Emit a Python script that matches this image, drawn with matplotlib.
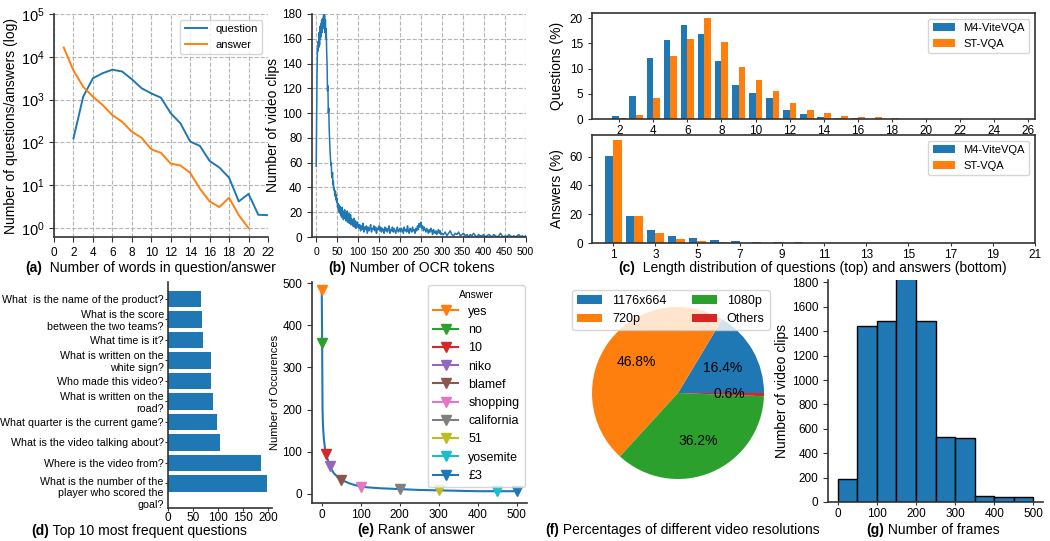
import numpy as np
import matplotlib.pyplot as plt
from matplotlib.transforms import ScaledTranslation

plt.rcParams['font.family'] = ['Liberation Sans', 'DejaVu Sans']
plt.rcParams['axes.edgecolor'] = '#333333'
plt.rcParams['axes.linewidth'] = 1.2
plt.rcParams['xtick.color'] = '#333333'
plt.rcParams['ytick.color'] = '#333333'
plt.rcParams['xtick.labelcolor'] = 'black'
plt.rcParams['ytick.labelcolor'] = 'black'
plt.rcParams['legend.fontsize'] = 9

# (a) words per question / answer
word_len = list(range(1, 23))
q_words = [None, 124, 1170, 3160, 4150, 5000, 4550, 3000, 1850, 1400, 1110,
           480, 280, 105, 83, 37, 26, 15, 4.2, 6.3, 2.05, 2.0]
a_words = [16500, 4800, 2000, 1170, 750, 435, 305, 178, 129, 69, 57,
           32, 29, 19.5, 8.3, 4.2, 3.1, 5.1, 2.0, 1.0, None, None]

# (b) OCR tokens per clip
ocr_dense = [57, 95, 130, 152, 150, 158, 153, 165, 155, 170,
             160, 172, 162, 175, 165, 176, 168, 178, 180, 170,
             179, 165, 175, 160, 168, 150, 140, 118, 122, 100,
             104, 88, 78, 70, 64, 58, 60, 50, 48, 52,
             42, 45, 38, 40, 36, 33, 37, 30, 34, 28,
             31, 24, 27, 22, 26, 20, 25, 19, 24, 17,
             22, 16, 24, 18, 21, 14, 20, 17, 22, 15,
             19, 13, 18, 16, 21, 12, 17, 14, 19, 11,
             16, 13, 18, 10, 15, 12, 14, 9, 13, 11,
             15, 8, 12, 10, 13, 7, 11, 9, 12, 8,
             10]
ocr_mid = [7, 10, 5, 9, 6, 11, 4, 8, 6, 9, 3, 8, 5, 7, 10, 4, 7, 6, 9, 5, 8, 3, 7, 6, 9,
           5, 8, 4, 7, 6, 3, 8, 5, 7, 4, 6, 9, 3, 6, 5, 8, 4, 7, 5, 3, 6, 8, 4, 5, 7,
           4, 7, 5, 3, 8, 5, 6, 4, 9, 5, 3, 7, 6, 4, 8, 5, 6, 3, 7, 5, 9, 6, 11, 8, 12,
           7, 9, 5, 8, 6, 4, 7, 5, 3, 6, 4, 7, 5, 2, 6, 4, 3, 5, 2, 4, 6, 3, 5, 2, 3]
ocr_tail = [2, 4, 1, 3, 5, 2, 1, 3, 2, 4, 1, 2, 3, 1, 2, 0, 2, 1, 3, 1, 0, 2, 1, 1, 2,
            0, 1, 2, 1, 0, 2, 1, 0, 1, 3, 1, 0, 1, 0, 2, 1, 0, 1, 0, 1, 2, 0, 1, 0, 1]

# (c) length distributions (%)
q_len = list(range(2, 27))
q_m4 = [0.5, 4.6, 12.1, 15.7, 18.7, 16.9, 11.4, 6.8, 5.2, 4.2, 1.85, 1.05, 0.46,
        0.26, 0.13, 0.08, 0.05, 0.04, 0.03, 0.03, 0.02, 0, 0, 0, 0]
q_st = [0.1, 0.7, 4.1, 12.5, 15.9, 20.1, 15.3, 10.4, 7.8, 5.6, 3.2, 1.85, 1.25,
        0.66, 0.46, 0.33, 0.12, 0.08, 0.06, 0.05, 0.04, 0.03, 0.03, 0.02, 0]
a_len = list(range(1, 21))
a_m4 = [60.7, 18.7, 8.9, 4.7, 3.3, 1.9, 1.2, 0.5, 0.4, 0.35, 0.3, 0.3, 0.25,
        0.2, 0.2, 0.2, 0.15, 0.15, 0.1, 0.1]
a_st = [71.3, 18.7, 6.8, 2.6, 1.2, 0.5, 0.3, 0.3, 0.25, 0.2, 0.2, 0.2, 0.15,
        0.15, 0.1, 0.1, 0.1, 0.05, 0.05, 0.05]

# (d) top questions (bottom to top)
questions = ["What is the number of the\nplayer who scored the\ngoal?",
             "Where is the video from?",
             "What is the video talking about?",
             "What quarter is the current game?",
             "What is written on the\nroad?",
             "Who made this video?",
             "What is written on the\nwhite sign?",
             "What time is it?",
             "What is the score\nbetween the two teams?",
             "What  is the name of the product?"]
question_counts = [197, 186, 103, 97, 89, 85, 85, 70, 68, 66]

# (e) answer rank curve
rank = [0, 1, 2, 3, 4, 5, 6, 7, 8, 9, 11, 14, 17, 20, 25, 30, 40, 50, 60, 70,
        80, 100, 120, 150, 200, 250, 300, 350, 400, 450, 500]
occurences = [483, 357, 200, 165, 150, 135, 125, 118, 110, 102, 95, 85, 76, 67,
              58, 50, 40, 33, 29, 25, 22, 17, 15, 13, 11, 9, 8, 7, 6, 6, 6]
answers = ['yes', 'no', '10', 'niko', 'blamef', 'shopping', 'california',
           '51', 'yosemite', '£3']
answer_rank = [0, 1, 11, 20, 50, 100, 200, 300, 450, 500]
answer_occ = [483, 357, 95, 67, 33, 17, 11, 8, 6, 6]
answer_colors = ['C1', 'C2', 'C3', 'C4', 'C5', 'C6', 'C7', 'C8', 'C9', 'C0']

# (f) resolutions
resolutions = ['1176x664', '720p', '1080p', 'Others']
res_share = [16.4, 46.8, 36.2, 0.6]

# (g) frames per clip
frame_bins = list(range(0, 501, 50))
frame_counts = [192, 1445, 1480, 1950, 1480, 535, 521, 50, 42, 37]

W, H = 1050, 541
fig = plt.figure(figsize=(W / 100, H / 100), dpi=100)


def box(l, t, r, b):
    return [l / W, 1 - b / H, (r - l) / W, (b - t) / H]


def despine(ax):
    ax.spines['top'].set_visible(False)
    ax.spines['right'].set_visible(False)


def caption(x, y, tag, text):
    t = fig.text(x / W, 1 - y / H, tag, fontsize=10, fontweight='bold', va='center')
    ax_a.annotate(' ' + text, xy=(1, 0), xycoords=t, va='bottom', ha='left',
                  fontsize=10, annotation_clip=False)


grid_kw = dict(linestyle='--', color='#b5b5b5', linewidth=0.8)

# ---- (a)
ax_a = fig.add_axes(box(54, 14, 268, 237))
ax_a.plot(word_len, np.array(q_words, dtype=float), color='C0', lw=1.4, label='question')
ax_a.plot(word_len, np.array(a_words, dtype=float), color='C1', lw=1.4, label='answer')
ax_a.set_yscale('log')
ax_a.set_ylim(0.62, 1e5)
ax_a.set_xlim(0, 22)
ax_a.set_xticks(range(0, 23, 2))
ax_a.set_yticks([1, 10, 100, 1e3, 1e4, 1e5])
ax_a.minorticks_off()
ax_a.tick_params(axis='x', labelsize=8.5)
ax_a.tick_params(axis='y', labelsize=10.5)
ax_a.grid(True, **grid_kw)
ax_a.set_ylabel('Number of questions/answers (log)', fontsize=10, labelpad=2)
ax_a.legend(loc='upper right', fontsize=8)
despine(ax_a)

# ---- (b)
ax_b = fig.add_axes(box(312, 14, 526, 237))
ocr_x = np.concatenate([np.arange(0, 101), np.arange(102, 301, 2), np.arange(304, 501, 4)])
ocr_y = np.concatenate([ocr_dense, ocr_mid, ocr_tail])
ax_b.plot(ocr_x, ocr_y, color='C0', lw=1.1)
ax_b.set_xlim(-10, 501)
ax_b.set_ylim(0, 180)
ax_b.set_xticks(range(0, 501, 50))
ax_b.set_yticks(range(0, 181, 20))
ax_b.tick_params(axis='x', labelsize=7.5)
ax_b.tick_params(axis='y', labelsize=8.5)
ax_b.grid(True, **grid_kw)
ax_b.set_ylabel('Number of video clips', fontsize=10, labelpad=2)
despine(ax_b)

# ---- (c)
ax_c1 = fig.add_axes(box(592, 13, 1035, 119))
ax_c1.bar(np.array(q_len) - 0.2, q_m4, width=0.4, color='C0', label='M4-ViteVQA')
ax_c1.bar(np.array(q_len) + 0.2, q_st, width=0.4, color='C1', label='ST-VQA')
ax_c1.set_xlim(0.4, 26.4)
ax_c1.set_ylim(0, 21)
ax_c1.set_xticks(range(2, 27, 2))
ax_c1.set_yticks([0, 5, 10, 15, 20])
ax_c1.tick_params(labelsize=8.5, length=3)
ax_c1.tick_params(axis='x', length=2.5, pad=1.5)
ax_c1.set_ylabel('Questions (%)', fontsize=10)
ax_c1.legend(loc='upper right', fontsize=8)

ax_c2 = fig.add_axes(box(592, 135, 1035, 243))
ax_c2.bar(np.array(a_len) - 0.2, a_m4, width=0.4, color='C0', label='M4-ViteVQA')
ax_c2.bar(np.array(a_len) + 0.2, a_st, width=0.4, color='C1', label='ST-VQA')
ax_c2.set_xlim(0, 21)
ax_c2.set_ylim(0, 75)
ax_c2.set_xticks(range(1, 22, 2))
ax_c2.set_yticks([0, 20, 40, 60])
ax_c2.tick_params(labelsize=8.5, length=3)
ax_c2.tick_params(axis='x', length=2.5, pad=1.5)
ax_c2.set_ylabel('Answers (%)', fontsize=10)
ax_c2.legend(loc='upper right', fontsize=8)

# ---- (d)
ax_d = fig.add_axes(box(168, 282, 272, 508))
ax_d.barh(range(len(questions)), question_counts, height=0.8, color='C0')
ax_d.set_yticks(range(len(questions)))
ax_d.set_yticklabels(questions, fontsize=7.7)
ax_d.set_ylim(-1.2, 9.82)
ax_d.set_xlim(0, 208)
ax_d.set_xticks([0, 50, 100, 150, 200])
ax_d.tick_params(axis='x', labelsize=8.5, length=2, pad=1)
ax_d.tick_params(axis='y', length=2, pad=1)
# the three-line label sits a little below its bar
lab0 = ax_d.get_yticklabels()[0]
lab0.set_transform(lab0.get_transform() + ScaledTranslation(0, -8 / 100, fig.dpi_scale_trans))
despine(ax_d)

# ---- (e)
ax_e = fig.add_axes(box(312, 282, 527, 503))
ax_e.plot(rank, occurences, color='C0', lw=1.5)
for name, r, o, c in zip(answers, answer_rank, answer_occ, answer_colors):
    ax_e.plot([r], [o], marker='v', color=c, markersize=7, lw=1.5, label=name)
ax_e.set_xlim(-25, 526)
ax_e.set_ylim(-22, 503)
ax_e.set_xticks(range(0, 501, 100))
ax_e.set_yticks(range(0, 501, 100))
ax_e.tick_params(labelsize=8.5)
ax_e.tick_params(axis='x', length=2.5, pad=1.5)
ax_e.set_ylabel('Number of Occurences', fontsize=8, labelpad=2)
leg = ax_e.legend(title='Answer', loc='upper right', fontsize=9, title_fontsize=7.5,
                  borderaxespad=0.2)
despine(ax_e)

# ---- (f)
ax_f = fig.add_axes(box(592, 307, 764, 479))
wedges, _, _ = ax_f.pie(res_share, colors=['C0', 'C1', 'C2', 'C3'], startangle=0,
                        autopct='%1.1f%%', pctdistance=0.6,
                        textprops=dict(fontsize=10))
ax_f.set_xlim(-1, 1)
ax_f.set_ylim(-1, 1)
ax_f.set_aspect('equal')
fig.legend(wedges, resolutions, ncol=2, loc='upper center', fontsize=9,
           bbox_to_anchor=(671 / W, 1 - 290 / H), borderaxespad=0,
           handlelength=2.0, columnspacing=2.0)

# ---- (g)
ax_g = fig.add_axes(box(828, 280, 1043, 502))
ax_g.bar(frame_bins[:-1], frame_counts, width=50, align='edge', color='C0',
         edgecolor='black', linewidth=1)
ax_g.set_xlim(-25, 525)
ax_g.set_ylim(0, 1820)
ax_g.set_xticks(range(0, 501, 100))
ax_g.set_yticks(range(0, 1801, 200))
ax_g.tick_params(labelsize=8.5)
ax_g.tick_params(axis='x', length=2.5, pad=1.5)
ax_g.set_ylabel('Number of video clips', fontsize=10, labelpad=2)
despine(ax_g)

# captions
caption(25, 268, '(a)', ' Number of words in question/answer')
caption(328, 268, '(b)', 'Number of OCR tokens')
caption(618, 268, '(c)', ' Length distribution of questions (top) and answers (bottom)')
caption(31, 531, '(d)', 'Top 10 most frequent questions')
caption(357, 530, '(e)', 'Rank of answer')
caption(545, 530, '(f)', 'Percentages of different video resolutions')
caption(866, 530, '(g)', 'Number of frames')

fig.savefig('out.png', dpi=100)
